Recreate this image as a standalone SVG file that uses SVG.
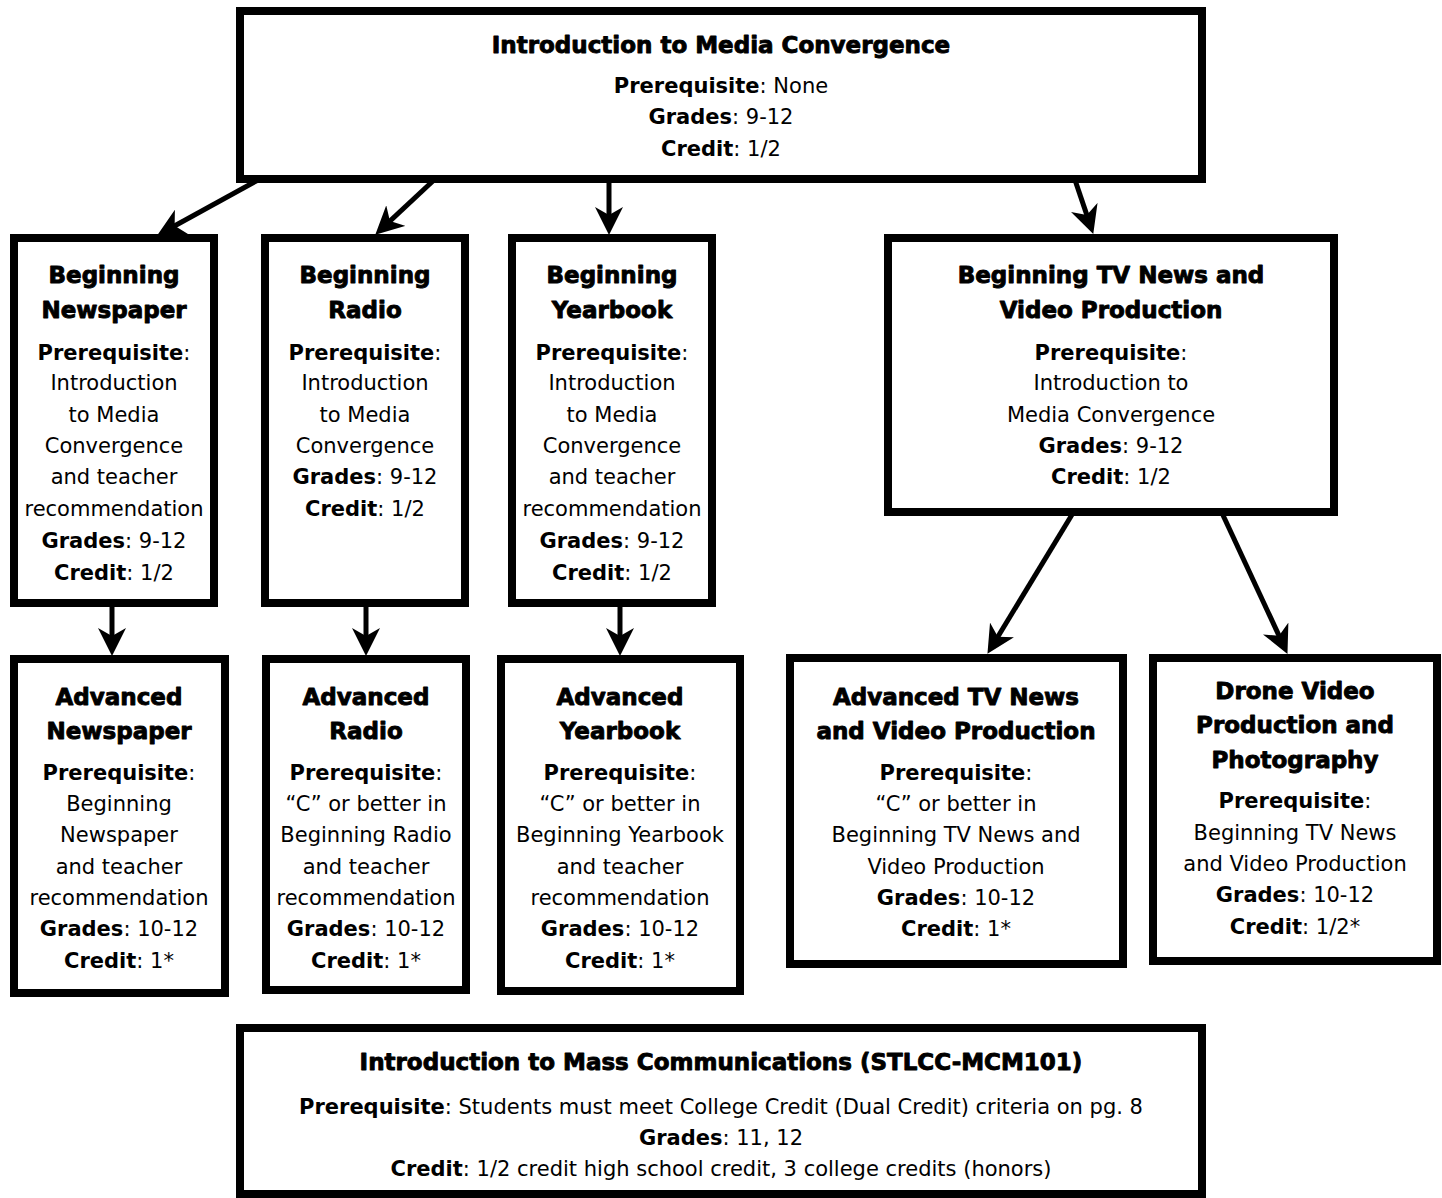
<svg xmlns="http://www.w3.org/2000/svg" width="1442" height="1198" viewBox="0 0 1442 1198">
<style>
.box{fill:#fff;stroke:#000;stroke-width:8}
.t{font-family:"DejaVu Sans","Liberation Sans",sans-serif;font-weight:bold;font-size:23px;text-anchor:middle;fill:#000;stroke:#000;stroke-width:0.9;stroke-linejoin:round}
.b{font-family:"DejaVu Sans","Liberation Sans",sans-serif;font-size:21px;text-anchor:middle;fill:#000}
.k{font-weight:bold}
.c{stroke:#000;stroke-width:5;fill:none;marker-end:url(#ah)}
</style>
<defs>
<marker id="ah" viewBox="0 0 28 28" refX="15" refY="14" markerWidth="28" markerHeight="28" markerUnits="userSpaceOnUse" orient="auto">
<path d="M0,0 L28,14 L0,28 L8,14 Z" fill="#000"/>
</marker>
</defs>
<rect width="1442" height="1198" fill="#fff"/>
<g id="connectors">
<line class="c" x1="258" y1="180" x2="168.5" y2="229.2"/>
<line class="c" x1="434" y1="180" x2="384.8" y2="225.8"/>
<line class="c" x1="609" y1="180" x2="609" y2="222"/>
<line class="c" x1="1075" y1="180" x2="1089.1" y2="221.6"/>
<line class="c" x1="112" y1="604" x2="112" y2="643"/>
<line class="c" x1="366" y1="604" x2="366" y2="643"/>
<line class="c" x1="620" y1="604" x2="620" y2="643"/>
<line class="c" x1="1073" y1="513" x2="994.2" y2="642.7"/>
<line class="c" x1="1222" y1="513" x2="1282" y2="642.1"/>
</g>
<g id="intro-media">
<rect class="box" x="240" y="11" width="962" height="168"/>
<text class="t" x="721" y="53">Introduction to Media Convergence</text>
<text class="b" x="721" y="93"><tspan class="k">Prerequisite</tspan>: None</text>
<text class="b" x="721" y="124"><tspan class="k">Grades</tspan>: 9-12</text>
<text class="b" x="721" y="156"><tspan class="k">Credit</tspan>: 1/2</text>
</g>
<g id="beg-newspaper">
<rect class="box" x="14" y="238" width="200" height="365"/>
<text class="t" x="114" y="283">Beginning</text>
<text class="t" x="114" y="318">Newspaper</text>
<text class="b" x="114" y="360"><tspan class="k">Prerequisite</tspan>:</text>
<text class="b" x="114" y="390">Introduction</text>
<text class="b" x="114" y="422">to Media</text>
<text class="b" x="114" y="453">Convergence</text>
<text class="b" x="114" y="484">and teacher</text>
<text class="b" x="114" y="516">recommendation</text>
<text class="b" x="114" y="548"><tspan class="k">Grades</tspan>: 9-12</text>
<text class="b" x="114" y="580"><tspan class="k">Credit</tspan>: 1/2</text>
</g>
<g id="beg-radio">
<rect class="box" x="265" y="238" width="200" height="365"/>
<text class="t" x="365" y="283">Beginning</text>
<text class="t" x="365" y="318">Radio</text>
<text class="b" x="365" y="360"><tspan class="k">Prerequisite</tspan>:</text>
<text class="b" x="365" y="390">Introduction</text>
<text class="b" x="365" y="422">to Media</text>
<text class="b" x="365" y="453">Convergence</text>
<text class="b" x="365" y="484"><tspan class="k">Grades</tspan>: 9-12</text>
<text class="b" x="365" y="516"><tspan class="k">Credit</tspan>: 1/2</text>
</g>
<g id="beg-yearbook">
<rect class="box" x="512" y="238" width="200" height="365"/>
<text class="t" x="612" y="283">Beginning</text>
<text class="t" x="612" y="318">Yearbook</text>
<text class="b" x="612" y="360"><tspan class="k">Prerequisite</tspan>:</text>
<text class="b" x="612" y="390">Introduction</text>
<text class="b" x="612" y="422">to Media</text>
<text class="b" x="612" y="453">Convergence</text>
<text class="b" x="612" y="484">and teacher</text>
<text class="b" x="612" y="516">recommendation</text>
<text class="b" x="612" y="548"><tspan class="k">Grades</tspan>: 9-12</text>
<text class="b" x="612" y="580"><tspan class="k">Credit</tspan>: 1/2</text>
</g>
<g id="beg-tv">
<rect class="box" x="888" y="238" width="446" height="274"/>
<text class="t" x="1111" y="283">Beginning TV News and</text>
<text class="t" x="1111" y="318">Video Production</text>
<text class="b" x="1111" y="360"><tspan class="k">Prerequisite</tspan>:</text>
<text class="b" x="1111" y="390">Introduction to</text>
<text class="b" x="1111" y="422">Media Convergence</text>
<text class="b" x="1111" y="453"><tspan class="k">Grades</tspan>: 9-12</text>
<text class="b" x="1111" y="484"><tspan class="k">Credit</tspan>: 1/2</text>
</g>
<g id="adv-newspaper">
<rect class="box" x="14" y="659" width="211" height="334"/>
<text class="t" x="119" y="705">Advanced</text>
<text class="t" x="119" y="739">Newspaper</text>
<text class="b" x="119" y="780"><tspan class="k">Prerequisite</tspan>:</text>
<text class="b" x="119" y="811">Beginning</text>
<text class="b" x="119" y="842">Newspaper</text>
<text class="b" x="119" y="874">and teacher</text>
<text class="b" x="119" y="905">recommendation</text>
<text class="b" x="119" y="936"><tspan class="k">Grades</tspan>: 10-12</text>
<text class="b" x="119" y="968"><tspan class="k">Credit</tspan>: 1*</text>
</g>
<g id="adv-radio">
<rect class="box" x="266" y="659" width="200" height="331"/>
<text class="t" x="366" y="705">Advanced</text>
<text class="t" x="366" y="739">Radio</text>
<text class="b" x="366" y="780"><tspan class="k">Prerequisite</tspan>:</text>
<text class="b" x="366" y="811">“C” or better in</text>
<text class="b" x="366" y="842">Beginning Radio</text>
<text class="b" x="366" y="874">and teacher</text>
<text class="b" x="366" y="905">recommendation</text>
<text class="b" x="366" y="936"><tspan class="k">Grades</tspan>: 10-12</text>
<text class="b" x="366" y="968"><tspan class="k">Credit</tspan>: 1*</text>
</g>
<g id="adv-yearbook">
<rect class="box" x="501" y="659" width="239" height="332"/>
<text class="t" x="620" y="705">Advanced</text>
<text class="t" x="620" y="739">Yearbook</text>
<text class="b" x="620" y="780"><tspan class="k">Prerequisite</tspan>:</text>
<text class="b" x="620" y="811">“C” or better in</text>
<text class="b" x="620" y="842">Beginning Yearbook</text>
<text class="b" x="620" y="874">and teacher</text>
<text class="b" x="620" y="905">recommendation</text>
<text class="b" x="620" y="936"><tspan class="k">Grades</tspan>: 10-12</text>
<text class="b" x="620" y="968"><tspan class="k">Credit</tspan>: 1*</text>
</g>
<g id="adv-tv">
<rect class="box" x="790" y="658" width="333" height="306"/>
<text class="t" x="956" y="705">Advanced TV News</text>
<text class="t" x="956" y="739">and Video Production</text>
<text class="b" x="956" y="780"><tspan class="k">Prerequisite</tspan>:</text>
<text class="b" x="956" y="811">“C” or better in</text>
<text class="b" x="956" y="842">Beginning TV News and</text>
<text class="b" x="956" y="874">Video Production</text>
<text class="b" x="956" y="905"><tspan class="k">Grades</tspan>: 10-12</text>
<text class="b" x="956" y="936"><tspan class="k">Credit</tspan>: 1*</text>
</g>
<g id="drone">
<rect class="box" x="1153" y="658" width="284" height="303"/>
<text class="t" x="1295" y="699">Drone Video</text>
<text class="t" x="1295" y="733">Production and</text>
<text class="t" x="1295" y="768">Photography</text>
<text class="b" x="1295" y="808"><tspan class="k">Prerequisite</tspan>:</text>
<text class="b" x="1295" y="840">Beginning TV News</text>
<text class="b" x="1295" y="871">and Video Production</text>
<text class="b" x="1295" y="902"><tspan class="k">Grades</tspan>: 10-12</text>
<text class="b" x="1295" y="934"><tspan class="k">Credit</tspan>: 1/2*</text>
</g>
<g id="mass-comm">
<rect class="box" x="240" y="1028" width="962" height="166"/>
<text class="t" x="721" y="1070">Introduction to Mass Communications (STLCC-MCM101)</text>
<text class="b" x="721" y="1114"><tspan class="k">Prerequisite</tspan>: Students must meet College Credit (Dual Credit) criteria on pg. 8</text>
<text class="b" x="721" y="1145"><tspan class="k">Grades</tspan>: 11, 12</text>
<text class="b" x="721" y="1176"><tspan class="k">Credit</tspan>: 1/2 credit high school credit, 3 college credits (honors)</text>
</g>
</svg>
